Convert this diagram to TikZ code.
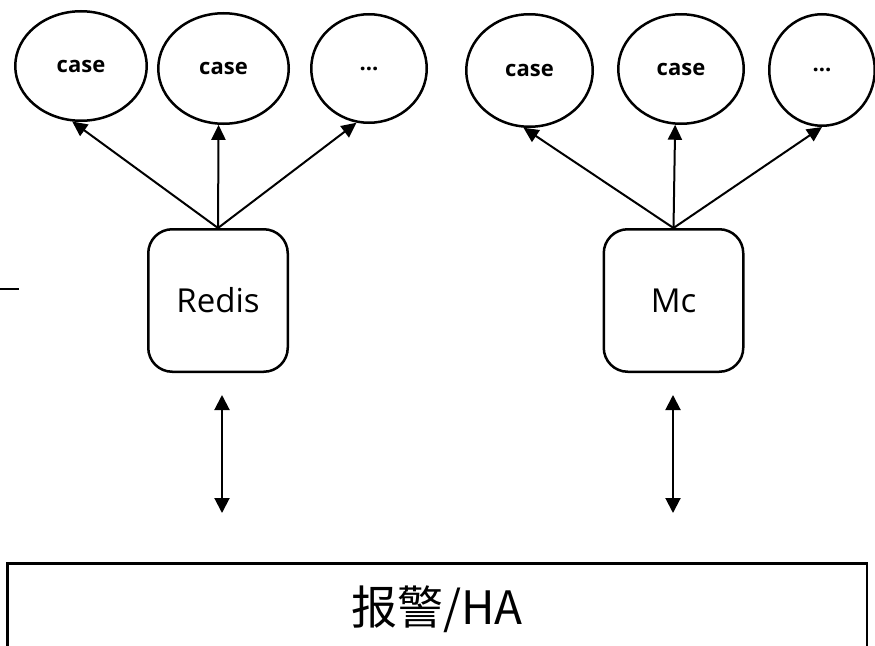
\documentclass[tikz,border=0pt]{standalone}
\usepackage{fontspec}
\setmainfont{Open Sans}
\newfontfamily\cjk{Noto Sans CJK SC}
\usetikzlibrary{shapes.geometric,arrows.meta}
\begin{document}
\begin{tikzpicture}[x=1pt,y=-1pt,
  casenode/.style={ellipse,draw,line width=2.5pt,inner sep=0pt,font=\fontsize{22}{24}\selectfont\bfseries},
  srv/.style={draw,rounded corners=24pt,line width=2.5pt,minimum width=139.5pt,minimum height=142.5pt,inner sep=0pt,font=\fontsize{33}{36}\selectfont},
  arr/.style={line width=2pt,-{Triangle[length=15pt,width=14pt]}},
  darr/.style={line width=2pt,{Triangle[length=15pt,width=15pt]}-{Triangle[length=15pt,width=15pt]}}]
\useasboundingbox (0,0) rectangle (875,645);
\clip (0,0) rectangle (875,645);
\fill[white] (0,0) rectangle (875,645);
% case ellipses
\node[casenode,minimum width=131.5pt,minimum height=109.5pt] (c1) at (81,66) {case};
\node[casenode,minimum width=130.5pt,minimum height=110.5pt] (c2) at (223.5,68.5) {case};
\node[casenode,minimum width=115.5pt,minimum height=108.5pt] (c3) at (369,68.5) {...};
\node[casenode,minimum width=126.5pt,minimum height=112.5pt] (c4) at (529.5,70.5) {case};
\node[casenode,minimum width=125.5pt,minimum height=109.5pt] (c5) at (681,69) {case};
\node[casenode,minimum width=105.5pt,minimum height=111.5pt] (c6) at (822,70) {...};
% servers
\node[srv] (redis) at (218,300.5) {Redis};
\node[srv] (mc) at (673.5,300.5) {Mc};
% arrows to cases
\draw[arr] (redis.north) -- (c1.261);
\draw[arr] (redis.north) -- (c2.265);
\draw[arr] (redis.north) -- (c3.257);
\draw[arr] (mc.north) -- (c4.264);
\draw[arr] (mc.north) -- (c5.264);
\draw[arr] (mc.north) -- (c6.270);
% bottom box
\node[draw,line width=2.5pt,minimum width=859.5pt,minimum height=92pt,inner sep=0pt,font=\cjk\fontsize{46}{50}\selectfont] (ha) at (437,609.25) {报警/HA};
% double arrows
\coordinate (ra1) at (222,395);
\coordinate (ra2) at (222,513);
\coordinate (ma1) at (673,395);
\coordinate (ma2) at (673,513);
\draw[darr] (ra1) -- (ra2);
\draw[darr] (ma1) -- (ma2);
% fragment at left edge
\coordinate (f1) at (0,289);
\coordinate (f2) at (19,289);
\draw[line width=2pt] (f1) -- (f2);
\end{tikzpicture}
\end{document}
